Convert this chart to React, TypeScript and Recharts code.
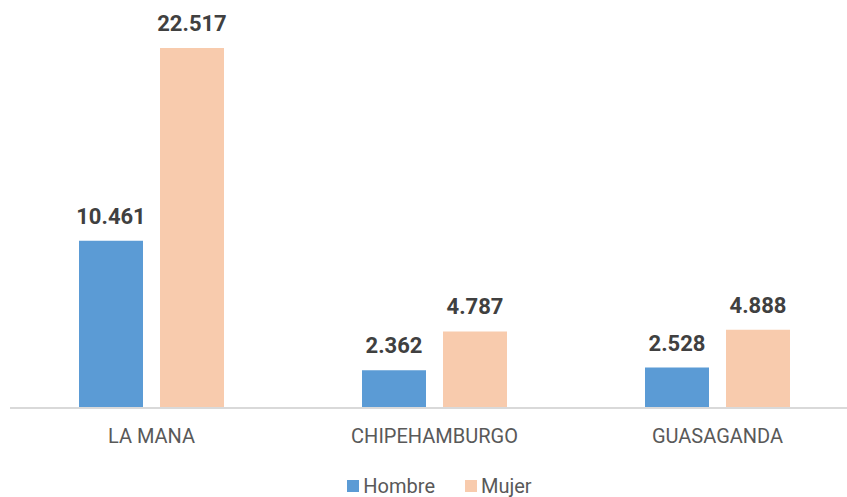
import { Bar, BarChart, LabelList, Legend, XAxis, YAxis } from "recharts"

const PARISHES = ["LA MANA", "CHIPEHAMBURGO", "GUASAGANDA"]
const HOMBRE = [10461, 2362, 2528]
const MUJER = [22517, 4787, 4888]

const HOMBRE_COLOR = "#5B9BD5"
const MUJER_COLOR = "#F8CBAD"
const FONT = "Roboto, 'Noto Sans', sans-serif"

// thousands with a dot, the way the source sheet shows them
const formatThousands = (value: number) =>
  String(value).replace(/\B(?=(\d{3})+(?!\d))/g, ".")

const data = PARISHES.map((name, i) => ({
  name,
  hombre: HOMBRE[i],
  mujer: MUJER[i],
}))

function LegendContent({ payload }: { payload?: { value: string; color: string }[] }) {
  return (
    <div style={{ display: "flex", justifyContent: "center", gap: 30, lineHeight: "22px" }}>
      {(payload ?? []).map((item) => (
        <div key={item.value} style={{ display: "flex", alignItems: "center", gap: 4 }}>
          <span style={{ width: 12, height: 12, background: item.color, display: "inline-block" }} />
          <span style={{ color: "#595959", fontSize: 20 }}>{item.value}</span>
        </div>
      ))}
    </div>
  )
}

export default function App() {
  return (
    <div
      style={{
        position: "absolute",
        left: 0,
        top: 0,
        width: 847,
        height: 497,
        overflow: "hidden",
        background: "#fff",
        fontFamily: FONT,
      }}
    >
      <BarChart
        width={859}
        height={497}
        data={data}
        margin={{ top: 48, right: 0, bottom: 0, left: 10 }}
        barCategoryGap="24.4%"
        barGap={17}
      >
        <XAxis
          dataKey="name"
          height={89}
          axisLine={{ stroke: "#d9d9d9", strokeWidth: 2 }}
          tickLine={false}
          tickMargin={15}
          tick={{ fill: "#595959", fontSize: 20, fontFamily: FONT }}
        />
        <YAxis hide domain={[0, "dataMax"]} />
        <Legend
          verticalAlign="middle"
          wrapperStyle={{ top: 475, left: 0, width: 879, fontFamily: FONT }}
          content={(props) => <LegendContent payload={props.payload as any} />}
        />
        <Bar dataKey="hombre" name="Hombre" fill={HOMBRE_COLOR} barSize={64} isAnimationActive={false}>
          <LabelList
            dataKey="hombre"
            position="top"
            offset={17}
            formatter={(v: number) => formatThousands(v)}
            style={{ fill: "#404040", fontSize: 22, fontWeight: 700, fontFamily: FONT }}
          />
        </Bar>
        <Bar dataKey="mujer" name="Mujer" fill={MUJER_COLOR} barSize={64} isAnimationActive={false}>
          <LabelList
            dataKey="mujer"
            position="top"
            offset={17}
            formatter={(v: number) => formatThousands(v)}
            style={{ fill: "#404040", fontSize: 22, fontWeight: 700, fontFamily: FONT }}
          />
        </Bar>
      </BarChart>
    </div>
  )
}
